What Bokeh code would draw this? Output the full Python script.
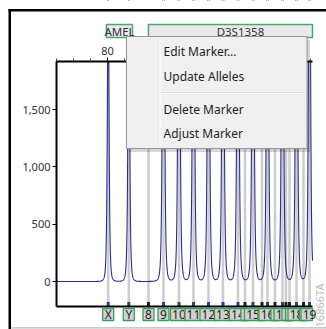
import numpy as np
from bokeh.plotting import figure
from bokeh.models import (Range1d, LinearAxis, FixedTicker, NumeralTickFormatter,
                          BoxAnnotation, Label, Grid)
from bokeh.embed import file_html
from bokeh.resources import INLINE

# ---------------- data ----------------
# peaks of the trace (size in bp, height in RFU; all are off-scale)
peak_names = ["X", "Y", "9", "10", "11", "12", "13", "14", "15", "16", "17", "18", "19"]
peak_bp = [80.21, 86.30, 96.55, 101.13, 105.42, 109.85, 114.14, 118.57,
           123.01, 127.30, 131.73, 135.87, 139.71]
peak_rfu = [2600, 2800, 5200, 5200, 5000, 5000, 5000, 5200, 5200, 5000, 5000, 5000, 4800]

# allele bins (labels below the axis)
bin_names = ["X", "Y", "8", "9", "10", "11", "12", "13", "14", "14.2", "15", "15.2",
             "16", "16.2", "17", "17.1", "17.2", "18", "18.2", "19"]
bin_bp = [80.21, 86.30, 92.12, 96.55, 101.13, 105.42, 109.85, 114.14, 118.57, 120.64,
          123.01, 125.67, 127.30, 129.51, 131.73, 132.76, 133.80, 135.87, 137.94, 139.71]
bin_virtual = [False, False, True, False, False, False, False, False, False, True,
               False, True, False, True, False, True, True, False, True, False]

# markers (above the plot)
marker_names = ["AMEL", "D3S1358"]
marker_start = [79.7, 92.1]
marker_end = [87.4, 146.5]

x_ticks = [80, 100, 120]
x_minor = [65, 70, 75, 85, 90, 95, 105, 110, 115, 125, 130, 135, 140]
y_ticks = [0, 500, 1000, 1500]

menu_items = ["Edit Marker...", "Update Alleles", "Delete Marker", "Adjust Marker"]
figure_id = "16866TA"

# visible plot area (data) and its margins on the canvas (px)
X0, X1 = 64.93, 140.60
Y0, Y1 = -218, 1919
W, H = 326, 329
ML, MR, MT, MB = 56, 14, 61, 23
ppb = (W - ML - MR) / (X1 - X0)          # px per bp
upp = (Y1 - Y0) / (H - MT - MB)          # RFU per px
CX0, CX1 = X0 - ML / ppb, X1 + MR / ppb
CY0, CY1 = Y0 - MB * upp, Y1 + MT * upp
FONT = "Noto Sans"

# ---------------- figure ----------------
p = figure(width=W, height=H, x_range=Range1d(CX0, CX1), y_range=Range1d(CY0, CY1),
           output_backend="svg", toolbar_location=None, x_axis_location=None,
           y_axis_location="left", min_border=0)
p.outline_line_color = None
p.background_fill_color = "white"
p.border_fill_color = "white"
for r in p.center:
    if isinstance(r, Grid):
        r.visible = False

# left axis
ya = p.yaxis[0]
ya.fixed_location = X0
ya.bounds = (Y0, Y1)
ya.ticker = FixedTicker(ticks=y_ticks)
ya.formatter = NumeralTickFormatter(format="0,0")
ya.axis_line_width = 2
ya.axis_line_color = "black"
ya.major_tick_out = 4
ya.major_tick_in = 0
ya.minor_tick_out = 0
ya.minor_tick_in = 0
ya.major_tick_line_color = "black"
ya.major_label_standoff = 2
ya.major_label_text_font = FONT
ya.major_label_text_font_size = "11px"
ya.major_label_text_color = "#333333"

# top axis
xa = LinearAxis(ticker=FixedTicker(ticks=x_ticks, minor_ticks=x_minor),
                fixed_location=Y1, bounds=(X0, X1))
xa.axis_line_width = 2
xa.axis_line_color = "black"
xa.major_tick_out = 4
xa.major_tick_in = 0
xa.minor_tick_out = 3
xa.minor_tick_in = 0
xa.minor_tick_line_color = "#444444"
xa.major_label_standoff = 3
xa.major_label_text_font = FONT
xa.major_label_text_font_size = "11px"
xa.major_label_text_color = "#333333"
p.add_layout(xa, "above")

# bottom axis line (no ticks)
xb = LinearAxis(ticker=FixedTicker(ticks=[]), fixed_location=Y0, bounds=(X0, X1))
xb.axis_line_width = 2
xb.axis_line_color = "black"
xb.major_tick_out = 0
xb.minor_tick_out = 0
xb.major_label_text_font_size = "0px"
p.add_layout(xb, "below")

# bin lines
p.segment(x0=bin_bp, y0=Y0, x1=bin_bp, y1=Y1, line_color="#cdcdcd", line_width=2.5,
          level="image")

# trace
xs = np.linspace(X0, X1, 4000)
g = 1.48 / ppb
ys = np.zeros_like(xs)
for b, h in zip(peak_bp, peak_rfu):
    u = (xs - b) / g
    ys += h / (1 + u ** 2) ** 2
p.line(xs, ys, line_color="#2b2d8e", line_width=1.1, level="underlay")

# mask: the trace is cut at the top of the plot area
p.add_layout(BoxAnnotation(left=None, right=None, top=None, bottom=Y1, fill_color="white",
                           fill_alpha=1, line_color=None, level="glyph"))

# bin markers on the bottom axis
mcol = ["#222222" if v else "#2a3f9d" for v in bin_virtual]
p.vbar(x=bin_bp, bottom=Y0, top=Y0 + 4.5 * upp, width=3 / ppb, fill_color=mcol,
       line_color=None)

# allele boxes below the axis
for name, b, v in zip(bin_names, bin_bp, bin_virtual):
    show = "." not in name
    wpx = (5 + 6 * len(name)) if show else 8
    half = wpx / ppb / 2
    p.add_layout(BoxAnnotation(left=b - half, right=min(b + half, X1),
                               top=H - 308, bottom=H - 320,
                               top_units="screen", bottom_units="screen",
                               fill_color="#d2d2d2", fill_alpha=1,
                               line_color="#3a9c58", line_alpha=1, line_width=1.3))
    if show:
        p.add_layout(Label(x=b, y=H - 314, y_units="screen", text=name, text_align="center",
                           text_baseline="middle", text_font=FONT, text_font_size="12px",
                           text_color="#222222"))

# marker boxes above the plot
for name, s, e in zip(marker_names, marker_start, marker_end):
    p.add_layout(BoxAnnotation(left=s, right=min(e, X1), top=H - 24, bottom=H - 37,
                               top_units="screen", bottom_units="screen",
                               fill_color="#ebe8ee", fill_alpha=1,
                               line_color="#4aa866", line_alpha=1, line_width=1.5))
    p.add_layout(Label(x=(s + e) / 2, y=H - 31, y_units="screen", text=name,
                       text_align="center", text_baseline="middle", text_font=FONT,
                       text_font_size="11.5px", text_color="#333333"))


def sbox(l, r, t, b, **kw):
    """box in canvas pixels (top-left origin)"""
    return BoxAnnotation(left=l, right=r, top=H - t, bottom=H - b, left_units="screen",
                         right_units="screen", top_units="screen", bottom_units="screen", **kw)


# outer frame of the screenshot
p.add_layout(sbox(8, W, 8.5, 11, fill_color="black", fill_alpha=1, line_color=None))
p.add_layout(sbox(8, 10.5, 8.5, H, fill_color="black", fill_alpha=1, line_color=None))
p.add_layout(sbox(11, W, 326.8, 328, fill_color="#b8b8b8", fill_alpha=1, line_color=None))

# context menu
p.add_layout(sbox(129, 309.5, 39, 151.5, fill_color="black", fill_alpha=0.16, line_color=None))
p.add_layout(sbox(126, 306.5, 36, 148, fill_color="#f0f0f0", fill_alpha=1,
                  line_color="#979797", line_alpha=1, line_width=1))
p.add_layout(sbox(158, 159, 37.5, 146.5, fill_color="#e2e3e3", fill_alpha=1, line_color=None))
p.add_layout(sbox(159, 160, 37.5, 146.5, fill_color="white", fill_alpha=1, line_color=None))
p.add_layout(sbox(160, 304, 91.5, 92.5, fill_color="#e0e0e0", fill_alpha=1, line_color=None))
p.add_layout(sbox(160, 304, 92.5, 93.5, fill_color="white", fill_alpha=1, line_color=None))
for txt, cy in zip(menu_items, [51, 76, 108.5, 132.5]):
    p.add_layout(Label(x=163, y=H - cy, x_units="screen", y_units="screen", text=txt,
                       text_align="left", text_baseline="middle", text_font=FONT,
                       text_font_size="12px", text_color="#1e1e1e"))

# figure id
p.add_layout(Label(x=319, y=H - 305, x_units="screen", y_units="screen", text=figure_id,
                   angle=np.pi / 2, text_align="center", text_baseline="middle",
                   text_font=FONT, text_font_size="11px", text_color="#bdbdbd"))

open("out.html", "w").write(file_html(p, INLINE))
